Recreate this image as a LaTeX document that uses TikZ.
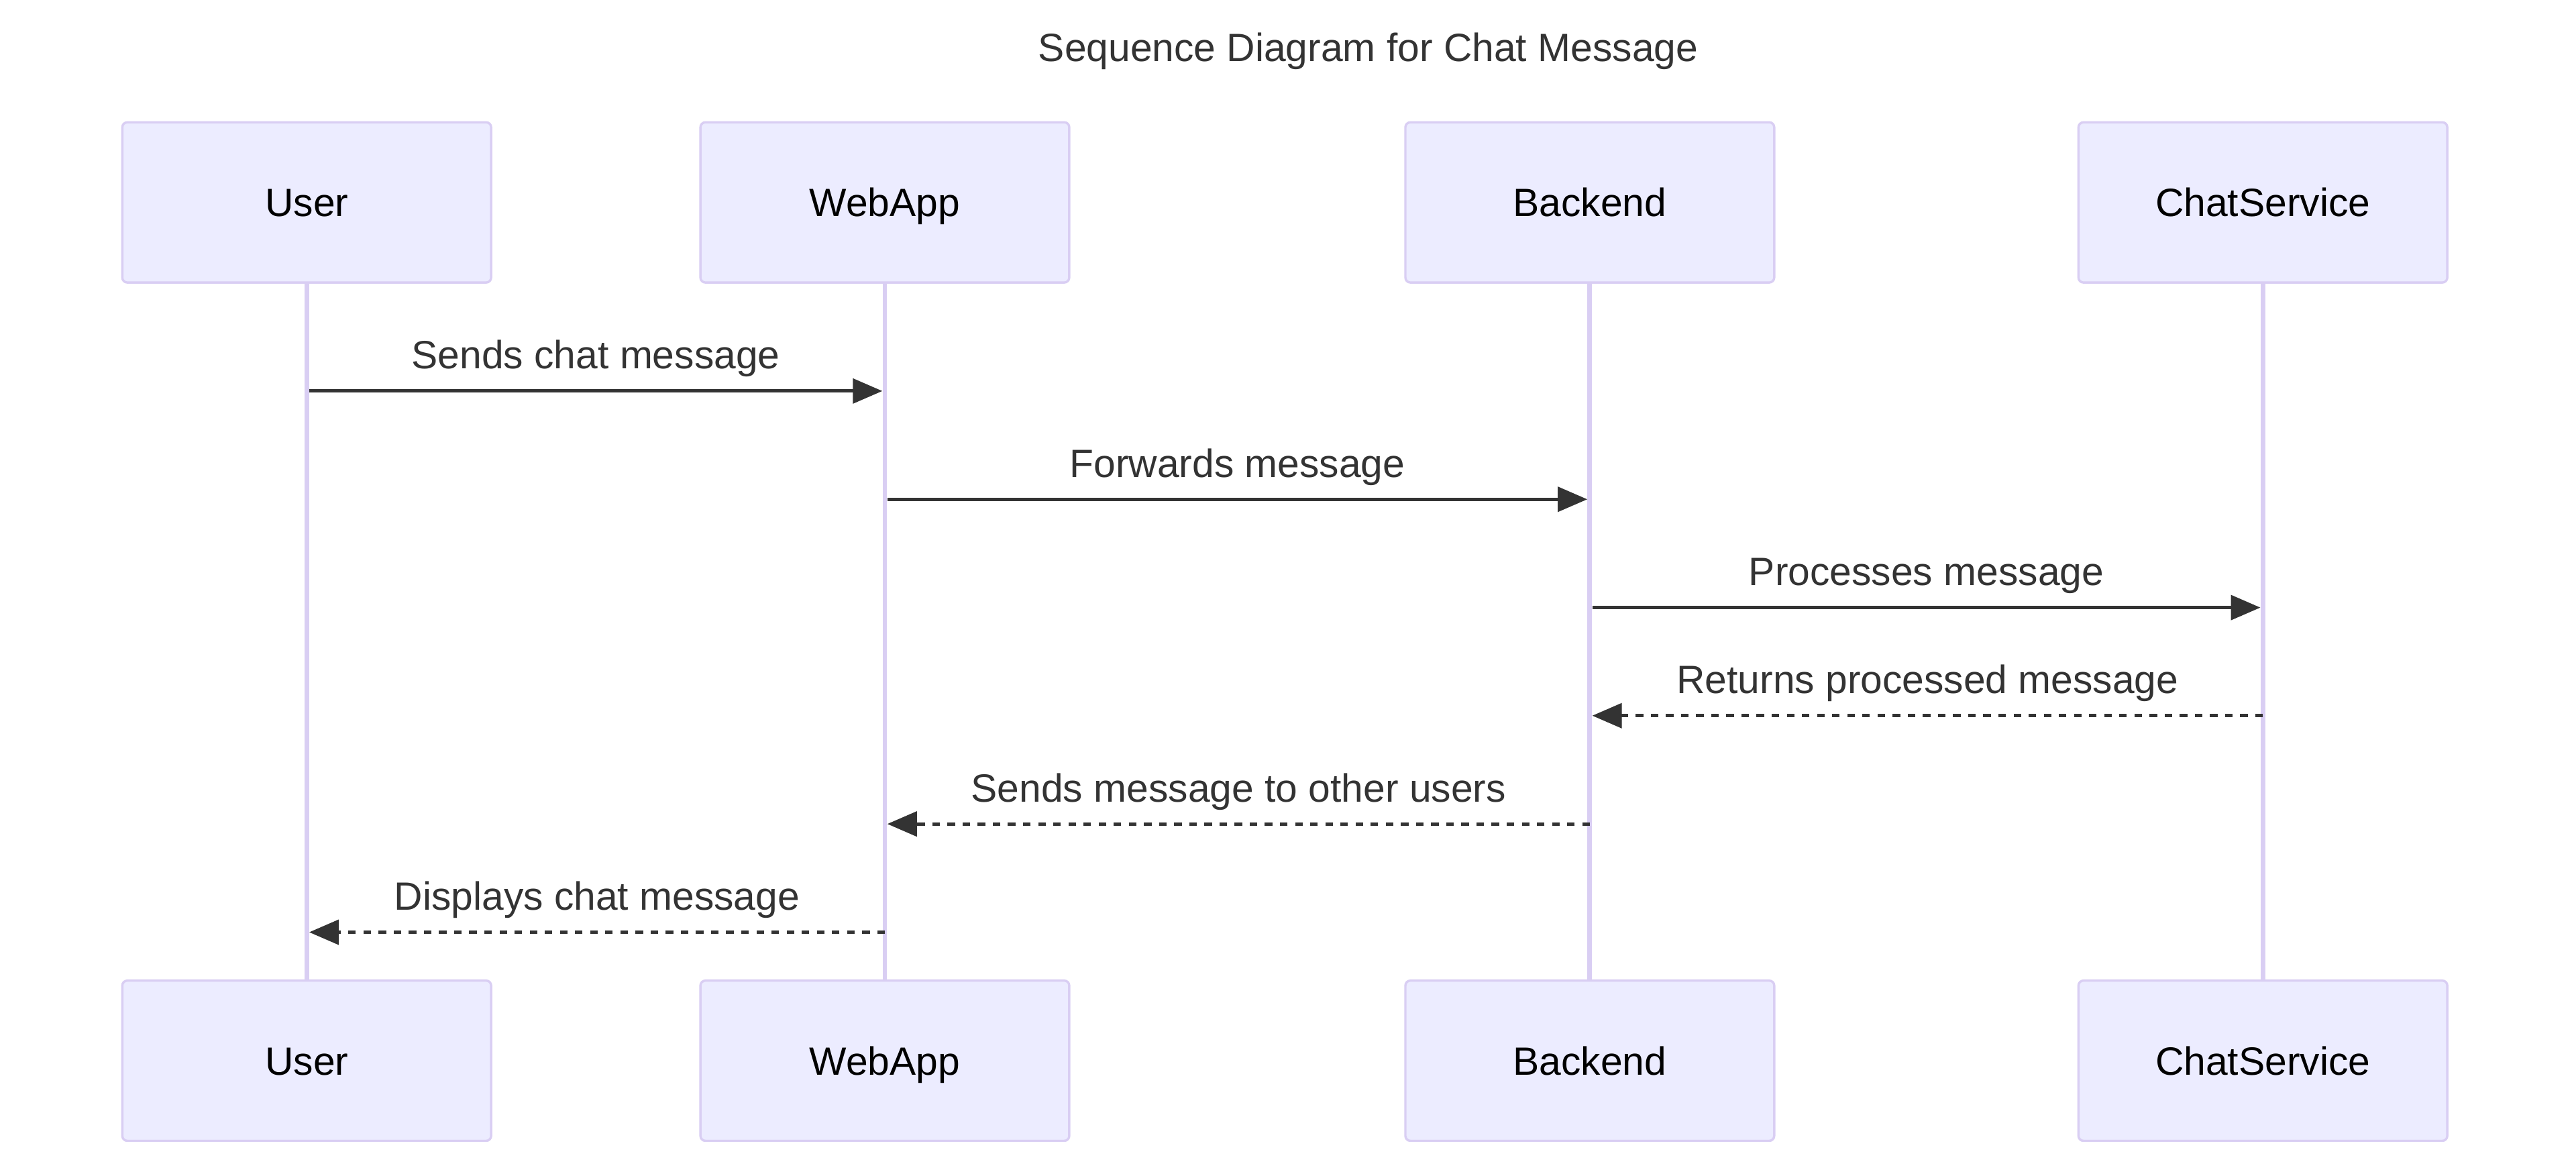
\documentclass[tikz,border=0pt]{standalone}
\usepackage{fontspec}
\setmainfont{Liberation Sans}
\usetikzlibrary{arrows.meta}
\definecolor{actfill}{HTML}{ECECFF}
\definecolor{actline}{HTML}{D9CEF3}
\definecolor{msgcol}{HTML}{333333}
\tikzset{
	actor/.style={draw=actline, fill=actfill, line width=0.7pt, rounded corners=1.5pt,
		minimum width=112.25pt, minimum height=48.75pt, inner sep=0pt,
		text height=8.6pt, text depth=0pt, text=black, font=\fontsize{12}{14}\selectfont},
	life/.style={draw=actline, line width=1.4pt},
	msg/.style={draw=msgcol, line width=1pt, -{Triangle[length=9pt,width=7.5pt]}},
	reply/.style={msg, dash pattern=on 2.3pt off 2.3pt},
	lbl/.style={anchor=base, yshift=6.75pt, inner sep=0pt, text=msgcol,
		font=\fontsize{12}{14}\selectfont},
}
\begin{document}
\begin{tikzpicture}[x=0.5pt,y=-0.5pt]
	\useasboundingbox (0,0) rectangle (1568,712.1);
	% Title
	\node[anchor=base, text=msgcol, font=\fontsize{12}{14}\selectfont] (title) at (832.8,37.4) {Sequence Diagram for Chat Message};
	% Actors (top)
	\node[actor] (userT) at (186.7,123.2) {User};
	\node[actor] (webT) at (538.6,123.2) {WebApp};
	\node[actor] (backT) at (967.7,123.2) {Backend};
	\node[actor] (chatT) at (1377.4,123.2) {ChatService};
	% Actors (bottom)
	\node[actor] (userB) at (186.7,645.6) {User};
	\node[actor] (webB) at (538.6,645.6) {WebApp};
	\node[actor] (backB) at (967.7,645.6) {Backend};
	\node[actor] (chatB) at (1377.4,645.6) {ChatService};
	% Lifelines
	\draw[life] (userT) -- (userB);
	\draw[life] (webT) -- (webB);
	\draw[life] (backT) -- (backB);
	\draw[life] (chatT) -- (chatB);
	% Message ends
	\coordinate (u1) at (188.2,238);
	\coordinate (w1) at (537.1,238);
	\coordinate (w2) at (540.1,303.9);
	\coordinate (b2) at (966.2,303.9);
	\coordinate (b3) at (969.2,369.8);
	\coordinate (c3) at (1375.9,369.8);
	\coordinate (c4) at (1377.4,435.6);
	\coordinate (b4) at (969.2,435.6);
	\coordinate (b5) at (967.7,501.5);
	\coordinate (w5) at (540.1,501.5);
	\coordinate (w6) at (538.6,567.4);
	\coordinate (u6) at (188.2,567.4);
	% Messages
	\draw[msg] (u1) -- node[lbl] (l1) {Sends chat message} (w1);
	\draw[msg] (w2) -- node[lbl] (l2) {Forwards message} (b2);
	\draw[msg] (b3) -- node[lbl] (l3) {Processes message} (c3);
	\draw[reply] (c4) -- node[lbl] (l4) {Returns processed message} (b4);
	\draw[reply] (b5) -- node[lbl] (l5) {Sends message to other users} (w5);
	\draw[reply] (w6) -- node[lbl] (l6) {Displays chat message} (u6);
\end{tikzpicture}
\end{document}
